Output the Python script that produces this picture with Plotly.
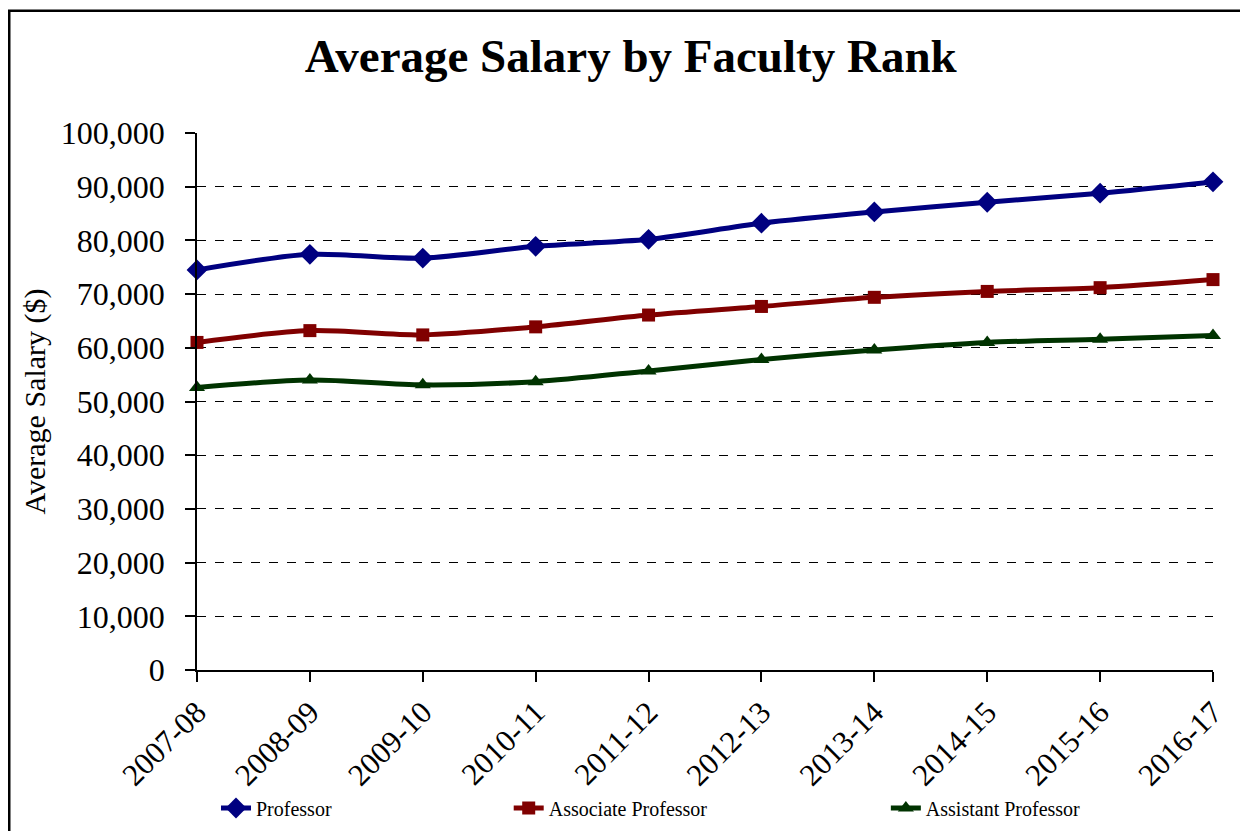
import plotly.graph_objects as go

years = ["2007-08", "2008-09", "2009-10", "2010-11", "2011-12",
         "2012-13", "2013-14", "2014-15", "2015-16", "2016-17"]
professor = [74500, 77400, 76700, 78900, 80200, 83200, 85300, 87100, 88800, 90900]
associate = [61000, 63200, 62400, 63900, 66100, 67700, 69400, 70500, 71200, 72700]
assistant = [52600, 54000, 53100, 53700, 55700, 57800, 59600, 61000, 61600, 62300]
y_ticks = [0, 10000, 20000, 30000, 40000, 50000, 60000, 70000, 80000, 90000, 100000]

FONT = "Liberation Serif, Times New Roman, serif"

series = [
    ("Professor", professor, "#000080", "diamond", 16, "legend"),
    ("Associate Professor", associate, "#800000", "square", 13, "legend2"),
    ("Assistant Professor", assistant, "#003300", "triangle-up", 14, "legend3"),
]

fig = go.Figure()
for name, vals, color, sym, size, leg in series:
    fig.add_trace(go.Scatter(
        x=years, y=vals, name=name, mode="lines+markers",
        line=dict(color=color, width=5, shape="spline", smoothing=0.8),
        marker=dict(symbol=sym, size=size, color=color),
        cliponaxis=False, legend=leg,
    ))

legend_common = dict(orientation="h", yref="container", yanchor="middle", y=0.0373,
                     xanchor="left",
                     font=dict(family=FONT, size=20, color="black"),
                     bgcolor="rgba(0,0,0,0)", itemwidth=30)

fig.update_layout(
    width=1248, height=831,
    margin=dict(l=189, r=43, t=125, b=169, autoexpand=False),
    paper_bgcolor="white", plot_bgcolor="white",
    font=dict(family=FONT, color="black"),
    title=dict(text="<b>Average Salary by Faculty Rank</b>", x=0.499, xanchor="center",
               y=0.943, yanchor="middle", font=dict(family=FONT, size=47, color="black")),
    legend=dict(x=0.0187, **legend_common),
    legend2=dict(x=0.3068, **legend_common),
    legend3=dict(x=0.678, **legend_common),
    showlegend=True,
)

fig.update_xaxes(
    type="category", range=[0, len(years) - 1], automargin=False,
    showline=True, linecolor="black", linewidth=1.5,
    ticks="outside", ticklen=10, tickcolor="black", tickwidth=1.5,
    tickangle=-45, tickfont=dict(family=FONT, size=31, color="black"),
    showgrid=False, zeroline=False,
)
fig.update_yaxes(
    range=[0, 100000], tickvals=y_ticks, tickformat=",d", automargin=False,
    showline=True, linecolor="black", linewidth=1.5,
    ticks="outside", ticklen=10, tickcolor="black", tickwidth=1.5,
    ticklabelstandoff=14,
    tickfont=dict(family=FONT, size=32, color="black"),
    showgrid=True, gridcolor="black", gridwidth=1, griddash="dash",
    zeroline=False,
    title=dict(text="Average Salary ($)", font=dict(family=FONT, size=30, color="black"), standoff=6),
)

fig.add_shape(type="rect", xref="paper", yref="paper",
              x0=-0.1848, x1=1.07, y0=1.2277, y1=-0.35,
              line=dict(color="black", width=2.5), layer="below")

fig.write_html("out.html")
